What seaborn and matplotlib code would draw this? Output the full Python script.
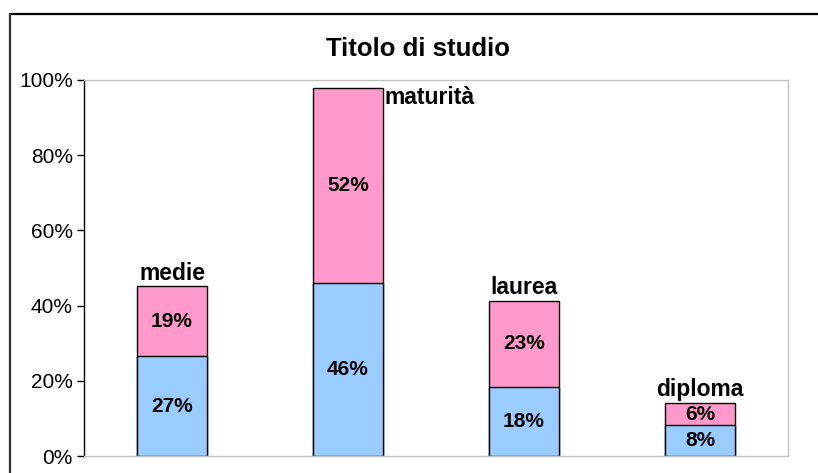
import matplotlib.pyplot as plt
from matplotlib.lines import Line2D
import seaborn as sns
import pandas as pd

categories = ["medie", "maturità", "laurea", "diploma"]
lower_values = [26.6, 46.0, 18.4, 8.2]
upper_values = [18.6, 51.9, 22.9, 5.9]
y_ticks = [0, 20, 40, 60, 80, 100]

BLUE = "#99CCFF"
PINK = "#FF99CC"


def main():
    sns.set_style("white")
    plt.rcParams["font.family"] = ["Liberation Sans", "DejaVu Sans"]
    plt.rcParams["text.color"] = "black"
    plt.rcParams["ytick.color"] = "black"

    df = pd.DataFrame({"cat": categories,
                       "lower": lower_values,
                       "upper": upper_values})
    df["total"] = df["lower"] + df["upper"]

    fig = plt.figure(figsize=(8.18, 4.73), dpi=100)
    ax = fig.add_axes([0.1027, 0.0359, 0.8606, 0.795])

    sns.barplot(data=df, x="cat", y="total", color=PINK, width=0.4,
                edgecolor="black", linewidth=1, saturation=1, ax=ax)
    sns.barplot(data=df, x="cat", y="lower", color=BLUE, width=0.4,
                edgecolor="black", linewidth=1, saturation=1, ax=ax)

    for i, row in df.iterrows():
        ax.text(i, row["lower"] / 2, f"{row['lower']:.0f}%", ha="center",
                va="center", fontsize=15, fontweight="bold")
        ax.text(i, row["lower"] + row["upper"] / 2, f"{row['upper']:.0f}%",
                ha="center", va="center", fontsize=15, fontweight="bold")
        if row["cat"] == "maturità":
            ax.text(i + 0.21, row["total"] + 0.6, row["cat"], ha="left",
                    va="top", fontsize=16.5, fontweight="bold")
        else:
            ax.text(i, row["total"] + 0.4, row["cat"], ha="center",
                    va="bottom", fontsize=16.5, fontweight="bold")

    ax.set_ylim(0, 100)
    ax.set_xlim(-0.5, 3.5)
    ax.set_yticks(y_ticks)
    ax.set_yticklabels([f"{t}%" for t in y_ticks], fontsize=15)
    ax.set_xticks([])
    ax.set_xlabel("")
    ax.set_ylabel("")
    ax.tick_params(axis="y", left=True, length=5, width=1, color="black",
                   labelcolor="black", pad=3)
    for side in ["top", "right", "bottom"]:
        ax.spines[side].set_color("#c0c0c0")
        ax.spines[side].set_linewidth(1)
    ax.spines["left"].set_color("black")
    ax.spines["left"].set_linewidth(1)

    fig.text(0.511, 0.897, "Titolo di studio", ha="center", va="center",
             fontsize=18.5, fontweight="bold")

    # outer chart frame (cropped on the right and bottom)
    fig.add_artist(Line2D([0.0122, 1.0], [0.970, 0.970], color="black",
                          linewidth=1.6, transform=fig.transFigure))
    fig.add_artist(Line2D([0.0122, 0.0122], [0.0, 0.970], color="#333333",
                          linewidth=1.6, transform=fig.transFigure))

    plt.savefig("out.png", dpi=100)


if __name__ == "__main__":
    main()
